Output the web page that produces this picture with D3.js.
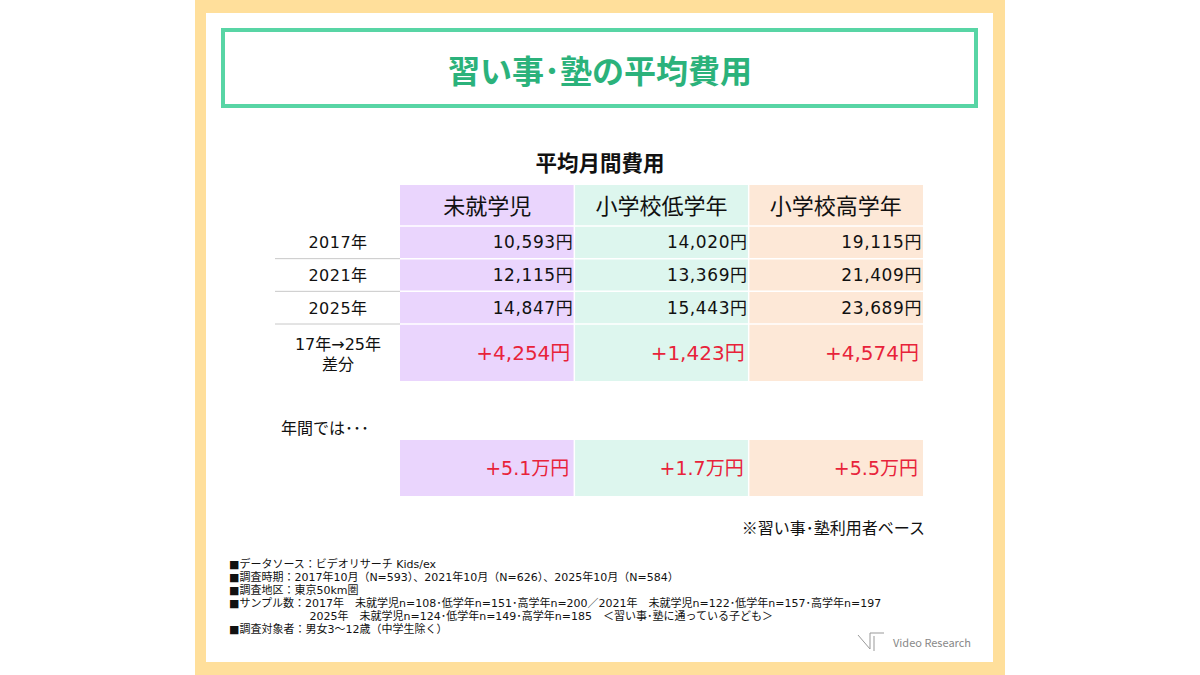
<!DOCTYPE html>
<html>
<head>
<meta charset="utf-8">
<script src="https://d3js.org/d3.v7.min.js"></script>
<style>
    body { margin: 0; background: #fff; }
    svg text { font-family: "Noto Sans CJK JP", "Noto Sans", sans-serif; }
    svg text.num { font-family: "DejaVu Sans", "Noto Sans CJK JP", sans-serif; }
</style>
</head>
<body>
<svg id="chart" width="1200" height="675"></svg>
<script>
    // data
    var categories = ["未就学児", "小学校低学年", "小学校高学年"];
    var years = ["2017年", "2021年", "2025年"];
    var values2017 = [10593, 14020, 19115];
    var values2021 = [12115, 13369, 21409];
    var values2025 = [14847, 15443, 23689];
    var diffs = [4254, 1423, 4574];
    var annual = [5.1, 1.7, 5.5];
    var notes = [
        "■データソース：ビデオリサーチ Kids/ex",
        "■調査時期：2017年10月（N=593）、2021年10月（N=626）、2025年10月（N=584）",
        "■調査地区：東京50km圏",
        "■サンプル数：2017年　未就学児n=108･低学年n=151･高学年n=200／2021年　未就学児n=122･低学年n=157･高学年n=197",
        "　　　　　　　 2025年　未就学児n=124･低学年n=149･高学年n=185　＜習い事･塾に通っている子ども＞",
        "■調査対象者：男女3～12歳（中学生除く）"
    ];

    var colFill = ["#ead5fd", "#ddf6ee", "#fde8d7"];
    var red = "#e8233a";
    var fmt = d3.format(",");

    var svg = d3.select("#chart");

    // frame
    svg.append("rect").attr("x", 195).attr("y", 0).attr("width", 810).attr("height", 675).attr("fill", "#ffdf9b");
    svg.append("rect").attr("x", 206).attr("y", 13).attr("width", 787).attr("height", 649).attr("fill", "#fff");

    // title box
    svg.append("rect").attr("x", 223).attr("y", 30).attr("width", 753).attr("height", 76)
        .attr("fill", "none").attr("stroke", "#58d5a5").attr("stroke-width", 4);
    svg.append("text").attr("x", 600).attr("y", 83).attr("text-anchor", "middle")
        .attr("font-size", 32).attr("font-weight", "bold").attr("fill", "#2bb27b")
        .text("習い事･塾の平均費用");

    svg.append("text").attr("x", 600).attr("y", 171).attr("text-anchor", "middle")
        .attr("font-size", 21.5).attr("font-weight", "bold").attr("fill", "#111")
        .text("平均月間費用");

    // scales
    var x = d3.scaleBand().domain(categories).range([400, 923]);
    var y = d3.scaleBand().domain(years).range([226, 324]);
    var headTop = 185, headBottom = 226;
    var diffTop = 324, diffBottom = 381;
    var annTop = 440, annBottom = 496;

    var rows = [values2017, values2021, values2025];

    // column backgrounds
    var g = svg.append("g");
    g.selectAll("rect.col").data(categories).enter().append("rect")
        .attr("class", "col")
        .attr("x", function (d) { return x(d); })
        .attr("y", headTop)
        .attr("width", x.bandwidth())
        .attr("height", diffBottom - headTop)
        .attr("fill", function (d, i) { return colFill[i]; });

    g.selectAll("rect.ann").data(categories).enter().append("rect")
        .attr("class", "ann")
        .attr("x", function (d) { return x(d); })
        .attr("y", annTop)
        .attr("width", x.bandwidth())
        .attr("height", annBottom - annTop)
        .attr("fill", function (d, i) { return colFill[i]; });

    // white separators between cells
    var sepY = [headBottom].concat(years.map(function (d) { return y(d) + y.bandwidth(); }));
    g.selectAll("line.hsep").data(sepY).enter().append("line")
        .attr("x1", 400).attr("x2", 923)
        .attr("y1", function (d) { return d; }).attr("y2", function (d) { return d; })
        .attr("stroke", "#fff").attr("stroke-width", 1.5);
    g.selectAll("line.vsep").data(categories.slice(1)).enter().append("line")
        .attr("x1", function (d) { return x(d); }).attr("x2", function (d) { return x(d); })
        .attr("y1", headTop).attr("y2", diffBottom)
        .attr("stroke", "#fff").attr("stroke-width", 1.5);
    g.selectAll("line.vsep2").data(categories.slice(1)).enter().append("line")
        .attr("x1", function (d) { return x(d); }).attr("x2", function (d) { return x(d); })
        .attr("y1", annTop).attr("y2", annBottom)
        .attr("stroke", "#fff").attr("stroke-width", 1.5);

    // gray separators in label column
    g.selectAll("line.lsep").data(years).enter().append("line")
        .attr("x1", 275).attr("x2", 400)
        .attr("y1", function (d) { return y(d) + y.bandwidth(); })
        .attr("y2", function (d) { return y(d) + y.bandwidth(); })
        .attr("stroke", "#c8c8c8").attr("stroke-width", 1);

    // headers
    g.selectAll("text.head").data(categories).enter().append("text")
        .attr("x", function (d) { return x(d) + x.bandwidth() / 2; })
        .attr("y", (headTop + headBottom) / 2 + 8)
        .attr("text-anchor", "middle").attr("font-size", 22).attr("fill", "#111")
        .text(function (d) { return d; });

    // year labels
    g.selectAll("text.year").data(years).enter().append("text")
        .attr("class", "num")
        .attr("x", 338)
        .attr("y", function (d) { return y(d) + y.bandwidth() / 2 + 6; })
        .attr("text-anchor", "middle").attr("font-size", 16).attr("fill", "#111")
        .attr("letter-spacing", 0.5)
        .text(function (d) { return d; });

    // values
    rows.forEach(function (vals, r) {
        g.selectAll("text.v" + r).data(vals).enter().append("text")
            .attr("class", "num")
            .attr("x", function (d, i) { return x(categories[i]) + x.bandwidth() - 1; })
            .attr("y", y(years[r]) + y.bandwidth() / 2 + 6)
            .attr("text-anchor", "end").attr("font-size", 17).attr("fill", "#111")
            .attr("letter-spacing", 0.6)
            .text(function (d) { return fmt(d) + "円"; });
    });

    // diff row
    var dl = g.append("text").attr("class", "num").attr("x", 338).attr("text-anchor", "middle")
        .attr("font-size", 16).attr("fill", "#111");
    dl.append("tspan").attr("x", 338).attr("y", 350).text("17年→25年");
    dl.append("tspan").attr("x", 338).attr("y", 370).text("差分");

    g.selectAll("text.diff").data(diffs).enter().append("text")
        .attr("class", "num")
        .attr("x", function (d, i) { return x(categories[i]) + x.bandwidth() - 4; })
        .attr("y", (diffTop + diffBottom) / 2 + 7)
        .attr("text-anchor", "end").attr("font-size", 20).attr("fill", red)
        .text(function (d) { return "+" + fmt(d) + "円"; });

    // annual
    svg.append("text").attr("x", 281).attr("y", 434).attr("font-size", 16).attr("fill", "#111")
        .text("年間では･･･");
    g.selectAll("text.ann").data(annual).enter().append("text")
        .attr("class", "num")
        .attr("x", function (d, i) { return x(categories[i]) + x.bandwidth() - 5; })
        .attr("y", (annTop + annBottom) / 2 + 7)
        .attr("text-anchor", "end").attr("font-size", 19).attr("fill", red)
        .text(function (d) { return "+" + d.toFixed(1) + "万円"; });

    svg.append("text").attr("x", 925).attr("y", 534).attr("text-anchor", "end")
        .attr("font-size", 16).attr("fill", "#111")
        .text("※習い事･塾利用者ベース");

    // footnotes, one block
    var nt = svg.append("text").attr("class", "num").attr("font-size", 11).attr("fill", "#111");
    nt.selectAll("tspan").data(notes).enter().append("tspan")
        .attr("x", 229)
        .attr("y", function (d, i) { return 568 + i * 13; })
        .text(function (d) { return d; });

    // logo
    var logo = svg.append("g").attr("stroke", "#999").attr("fill", "none").attr("stroke-width", 1);
    logo.append("path").attr("d", "M858,635 L870,649 L870,633 L884,633");
    logo.append("path").attr("d", "M874,636 L874,651");
    svg.append("text").attr("x", 893).attr("y", 647).attr("font-size", 11).attr("fill", "#888")
        .attr("font-family", "Roboto, sans-serif").text("Video Research");
</script>
</body>
</html>
